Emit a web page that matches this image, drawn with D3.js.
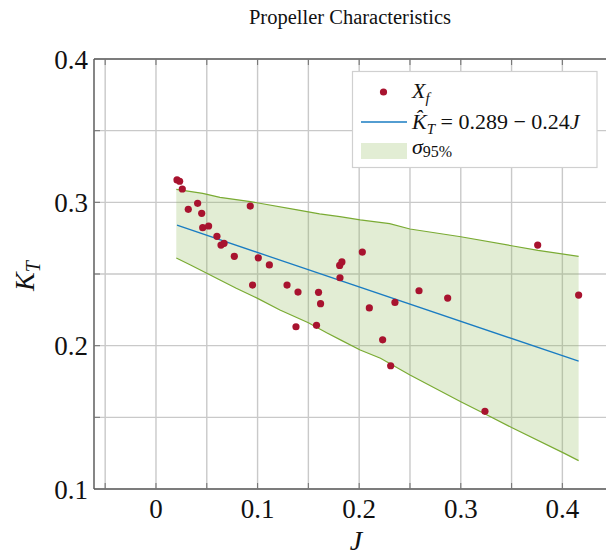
<!DOCTYPE html>
<html>
<head>
<meta charset="utf-8">
<script src="https://cdn.jsdelivr.net/npm/d3@7"></script>
<style>
	body { margin: 0; background: #fff; }
	svg text { font-family: "Liberation Serif", "DejaVu Serif", serif; fill: #111; }
</style>
</head>
<body>
<svg id="chart" width="606" height="556"></svg>
<script>
// measured points
const jValues = [0.0207, 0.0233, 0.0259, 0.0318, 0.041, 0.045, 0.046, 0.0518, 0.060, 0.064, 0.067, 0.0771,
	0.0928, 0.0951, 0.1007, 0.1116, 0.129, 0.1398, 0.1378, 0.158, 0.160, 0.162, 0.1808, 0.183, 0.1811,
	0.2031, 0.210, 0.2231, 0.231, 0.2352, 0.2589, 0.2871, 0.3238, 0.3757, 0.416];
const ktValues = [0.3156, 0.3147, 0.3093, 0.2951, 0.2993, 0.2923, 0.2823, 0.2835, 0.2763, 0.2702, 0.2714, 0.2623,
	0.2974, 0.2423, 0.2613, 0.2563, 0.2423, 0.2374, 0.2132, 0.2142, 0.2372, 0.2293, 0.256, 0.2584, 0.2474,
	0.2653, 0.2263, 0.2041, 0.186, 0.2302, 0.2383, 0.2332, 0.1542, 0.2702, 0.2353];

// fit  K = a + b J
const fitIntercept = 0.289;
const fitSlope = -0.24;

// 95% band edges
const upperJ = [0.020, 0.046, 0.063, 0.093, 0.139, 0.161, 0.181, 0.201, 0.230, 0.250, 0.300, 0.350, 0.376, 0.416];
const upperKt = [0.309, 0.3063, 0.3035, 0.3005, 0.2948, 0.2919, 0.2900, 0.2877, 0.2851, 0.2814, 0.2760, 0.2697, 0.2665, 0.2623];
const lowerJ = [0.020, 0.034, 0.050, 0.063, 0.079, 0.100, 0.122, 0.150, 0.168, 0.183, 0.201, 0.221, 0.250, 0.300, 0.324, 0.350, 0.401, 0.416];
const lowerKt = [0.2612, 0.2563, 0.2505, 0.2458, 0.2400, 0.2330, 0.2249, 0.2160, 0.2090, 0.2035, 0.1970, 0.1912, 0.1795, 0.1609, 0.1523, 0.1429, 0.1252, 0.1198];

const xTickLabels = [0, 0.1, 0.2, 0.3, 0.4];
const yTickLabels = [0.1, 0.2, 0.3, 0.4];
const gridX = [-0.05, 0, 0.05, 0.1, 0.15, 0.2, 0.25, 0.3, 0.35, 0.4, 0.45];
const gridY = [0.1, 0.15, 0.2, 0.25, 0.3, 0.35, 0.4];

const dotColor = '#a8132f';
const lineColor = '#1a7cc2';
const bandFill = '#8db652';
const bandStroke = '#7aab33';

const svg = d3.select('#chart');

const x = d3.scaleLinear()
	.domain([-0.061, 0.45])
	.range([94, 94 + 0.511 * 1016]);
const y = d3.scaleLinear()
	.domain([0.1, 0.4])
	.range([489, 59]);

const plotLeft = x.range()[0], plotRight = x.range()[1];
const plotTop = y.range()[1], plotBottom = y.range()[0];

// grid
svg.append('g')
	.selectAll('line')
	.data(gridX)
	.join('line')
	.attr('x1', d => x(d)).attr('x2', d => x(d))
	.attr('y1', plotTop).attr('y2', plotBottom)
	.style('stroke', '#c9c9c9')
	.style('stroke-width', 1.4);

svg.append('g')
	.selectAll('line')
	.data(gridY)
	.join('line')
	.attr('x1', plotLeft).attr('x2', plotRight)
	.attr('y1', d => y(d)).attr('y2', d => y(d))
	.style('stroke', '#c9c9c9')
	.style('stroke-width', 1.4);

// band polygon: upper edge forward, lower edge back
let bandPoints = [];
for (let i = 0; i < upperJ.length; i++)
	bandPoints.push([upperJ[i], upperKt[i]]);
for (let i = lowerJ.length - 1; i >= 0; i--)
	bandPoints.push([lowerJ[i], lowerKt[i]]);

const toPx = d3.line()
	.x(d => x(d[0]))
	.y(d => y(d[1]));

svg.append('path')
	.attr('d', toPx(bandPoints) + 'Z')
	.style('fill', bandFill)
	.style('fill-opacity', 0.25)
	.style('stroke', 'none');

svg.append('path')
	.attr('d', toPx(upperJ.map((d, i) => [d, upperKt[i]])))
	.style('fill', 'none')
	.style('stroke', bandStroke)
	.style('stroke-width', 1.2);

svg.append('path')
	.attr('d', toPx(lowerJ.map((d, i) => [d, lowerKt[i]])))
	.style('fill', 'none')
	.style('stroke', bandStroke)
	.style('stroke-width', 1.2);

// fitted line over the data range
const jExtent = d3.extent(jValues);
svg.append('path')
	.attr('d', toPx(jExtent.map(j => [j, fitIntercept + fitSlope * j])))
	.style('fill', 'none')
	.style('stroke', lineColor)
	.style('stroke-width', 1.3);

// points
svg.append('g')
	.selectAll('circle')
	.data(jValues.map((d, i) => [d, ktValues[i]]))
	.join('circle')
	.attr('cx', d => x(d[0]))
	.attr('cy', d => y(d[1]))
	.attr('r', 3.6)
	.style('fill', dotColor);

// frame + inward ticks
const frame = svg.append('g').style('stroke', '#222').style('stroke-width', 1.1);
frame.append('line').attr('x1', plotLeft).attr('x2', plotLeft).attr('y1', plotTop).attr('y2', plotBottom);
frame.append('line').attr('x1', plotLeft).attr('x2', plotRight).attr('y1', plotTop).attr('y2', plotTop);
frame.append('line').attr('x1', plotLeft).attr('x2', plotRight).attr('y1', plotBottom).attr('y2', plotBottom);

const ticks = svg.append('g').style('stroke', '#777').style('stroke-width', 1.1);
gridX.forEach(d => {
	ticks.append('line').attr('x1', x(d)).attr('x2', x(d)).attr('y1', plotBottom).attr('y2', plotBottom - 6);
	ticks.append('line').attr('x1', x(d)).attr('x2', x(d)).attr('y1', plotTop).attr('y2', plotTop + 6);
});
gridY.forEach(d => {
	ticks.append('line').attr('x1', plotLeft).attr('x2', plotLeft + 6).attr('y1', y(d)).attr('y2', y(d));
});

// tick labels
svg.append('g')
	.selectAll('text')
	.data(xTickLabels)
	.join('text')
	.attr('x', d => x(d))
	.attr('y', 518)
	.attr('text-anchor', 'middle')
	.style('font-size', '27px')
	.text(d => d);

svg.append('g')
	.selectAll('text')
	.data(yTickLabels)
	.join('text')
	.attr('x', 88)
	.attr('y', d => y(d) + 9.5)
	.attr('text-anchor', 'end')
	.style('font-size', '27px')
	.text(d => d);

// title
svg.append('text')
	.attr('x', 350)
	.attr('y', 24)
	.attr('text-anchor', 'middle')
	.style('font-size', '20.5px')
	.text('Propeller Characteristics');

// axis labels
svg.append('text')
	.attr('x', 356)
	.attr('y', 550)
	.attr('text-anchor', 'middle')
	.style('font-size', '28px')
	.style('font-style', 'italic')
	.text('J');

const yLabel = svg.append('text')
	.attr('transform', 'translate(34,276) rotate(-90)')
	.attr('text-anchor', 'middle')
	.style('font-size', '28px')
	.style('font-style', 'italic');
yLabel.append('tspan').text('K');
yLabel.append('tspan').attr('dy', 6).style('font-size', '20px').text('T');

// legend
const legend = svg.append('g');
legend.append('rect')
	.attr('x', 352.5).attr('y', 71.5)
	.attr('width', 244.5).attr('height', 96)
	.style('fill', '#fff')
	.style('stroke', '#d0d0d0')
	.style('stroke-width', 1.2);

legend.append('circle')
	.attr('cx', 383.5).attr('cy', 92)
	.attr('r', 3.6)
	.style('fill', dotColor);

legend.append('line')
	.attr('x1', 361).attr('x2', 407)
	.attr('y1', 122).attr('y2', 122)
	.style('stroke', lineColor)
	.style('stroke-width', 1.3);

legend.append('rect')
	.attr('x', 361).attr('y', 143)
	.attr('width', 46).attr('height', 16)
	.style('fill', bandFill)
	.style('fill-opacity', 0.25);

const t1 = legend.append('text')
	.attr('x', 412).attr('y', 98)
	.style('font-size', '22px');
t1.append('tspan').style('font-style', 'italic').text('X');
t1.append('tspan').attr('dy', 5).style('font-size', '15px').style('font-style', 'italic').text('f');

const t2 = legend.append('text')
	.attr('x', 412).attr('y', 129)
	.style('font-size', '22px');
t2.append('tspan').style('font-style', 'italic').text('K\u0302');
t2.append('tspan').attr('dy', 5).style('font-size', '15px').style('font-style', 'italic').text('T');
t2.append('tspan').attr('dy', -5).text(' = 0.289 \u2212 0.24');
t2.append('tspan').style('font-style', 'italic').text('J');

const t3 = legend.append('text')
	.attr('x', 412).attr('y', 154)
	.style('font-size', '22px');
t3.append('tspan').style('font-style', 'italic').text('\u03C3');
t3.append('tspan').attr('dy', 3).style('font-size', '16px').text('95%');
</script>
</body>
</html>
